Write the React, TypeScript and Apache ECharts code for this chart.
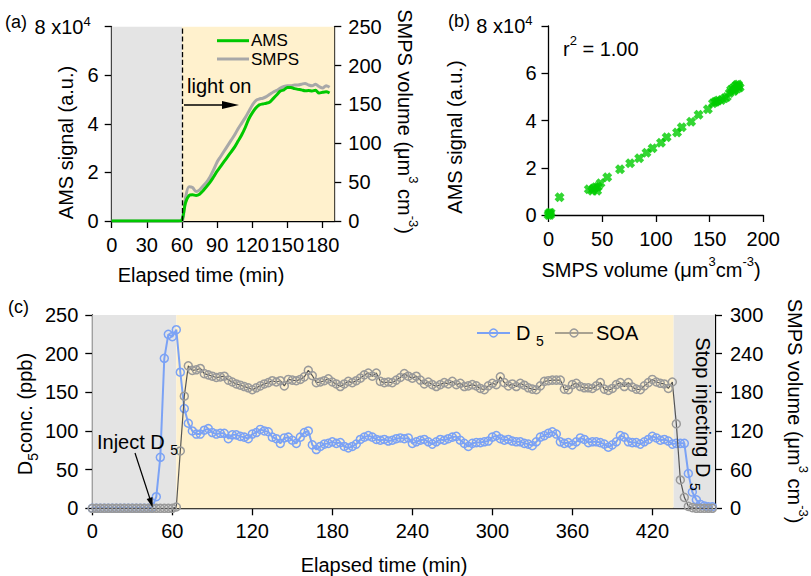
import React, { useEffect, useRef } from "react";
import * as echarts from "echarts";

const FONT = "'Liberation Sans', Arial, sans-serif";
const FS = 20;

// ---------- Panel (a): time series ----------
const A_TIME = [0, 57, 60, 63, 66, 69, 72, 75, 78, 81, 84, 87, 90, 93, 96, 99, 102, 105, 108, 111, 114, 117, 120, 123, 126, 129, 132, 135, 138, 141, 144, 147, 150, 153, 156, 159, 162, 165, 168, 171, 174, 177, 180, 183, 186];
// AMS signal in units of 1e4 a.u.
const A_AMS = [0, 0, 0.05, 0.75, 1.05, 1.08, 1.05, 1.1, 1.25, 1.42, 1.6, 1.82, 2.05, 2.25, 2.45, 2.65, 2.85, 3.05, 3.3, 3.55, 3.85, 4.2, 4.45, 4.65, 4.78, 4.82, 4.85, 4.9, 5.05, 5.2, 5.35, 5.4, 5.5, 5.5, 5.45, 5.42, 5.4, 5.36, 5.37, 5.35, 5.38, 5.27, 5.3, 5.32, 5.27];
// SMPS volume (um3 cm-3)
const A_SMPS = [0, 0, 0, 30, 44, 43, 38, 40, 45, 50, 57, 66, 76, 83, 90, 97, 104, 111, 119, 126, 133, 141, 149, 155, 157, 158, 160, 163, 166, 168, 171, 173, 174, 174, 175, 175, 176, 177, 175, 174, 176, 173, 171, 174, 172];
const A_X_TICKS = [0, 30, 60, 90, 120, 150, 180];

// ---------- Panel (b): scatter ----------
const B_SMPS = [0, 1, 2, 0.5, 1.5, 10.3, 37.5, 40.6, 42, 43.8, 45.3, 46, 48.4, 54.7, 66.6, 76, 84.4, 91.2, 96.9, 104.7, 110, 119.7, 124.1, 132.8, 139.7, 148.4, 153.1, 155, 156.3, 158, 161, 164, 166, 168.7, 170, 171.9, 172.5, 174, 175, 176, 177, 178, 176.5, 173];
const B_AMS = [0, 0.05, 0.1, 0.08, 0, 0.75, 1.09, 1.03, 1.12, 1.17, 1.03, 1.2, 1.34, 1.6, 1.94, 2.19, 2.4, 2.64, 2.83, 3.06, 3.29, 3.49, 3.71, 3.95, 4.24, 4.48, 4.73, 4.78, 4.8, 4.85, 4.87, 4.94, 5.0, 5.16, 5.3, 5.37, 5.25, 5.44, 5.5, 5.35, 5.45, 5.4, 5.52, 5.28];

// ---------- Panel (c): D5 and SOA ----------
const C_TIME = [0, 3, 6, 9, 12, 15, 18, 21, 24, 27, 30, 33, 36, 39, 42, 45, 48, 51, 54, 57, 60, 63, 66, 69, 72, 75, 78, 81, 84, 87, 90, 93, 96, 99, 102, 105, 108, 111, 114, 117, 120, 123, 126, 129, 132, 135, 138, 141, 144, 147, 150, 153, 156, 159, 162, 165, 168, 171, 174, 177, 180, 183, 186, 189, 192, 195, 198, 201, 204, 207, 210, 213, 216, 219, 222, 225, 228, 231, 234, 237, 240, 243, 246, 249, 252, 255, 258, 261, 264, 267, 270, 273, 276, 279, 282, 285, 288, 291, 294, 297, 300, 303, 306, 309, 312, 315, 318, 321, 324, 327, 330, 333, 336, 339, 342, 345, 348, 351, 354, 357, 360, 363, 366, 369, 372, 375, 378, 381, 384, 387, 390, 393, 396, 399, 402, 405, 408, 411, 414, 417, 420, 423, 426, 429, 432, 435, 438, 441, 444, 447, 450, 453, 456, 459, 462, 465];
// D5 concentration (ppb)
const C_D5 = [
  0, 0, 0, 0, 0, 0, 0, 0, 0, 0, 0, 0, 0, 0, 0, 1,
  15, 66, 194, 225, 222, 231, 176, 129, 110, 100,
  96, 96, 101, 103, 98, 96, 97, 97, 90, 95,
  95, 93, 92, 90, 96, 98, 102, 100, 99, 92,
  90, 84, 91, 92, 88, 84, 92, 98, 100, 82,
  76, 80, 83, 84, 86, 84, 85, 80, 78, 80,
  83, 89, 92, 94, 92, 89, 88, 89, 87, 88,
  90, 91, 90, 91, 84, 86, 88, 89, 86, 83,
  86, 89, 88, 90, 92, 93, 88, 84, 80, 84,
  85, 85, 86, 87, 92, 94, 90, 88, 89, 87,
  86, 86, 84, 83, 81, 86, 92, 94, 97, 99,
  96, 86, 84, 85, 82, 86, 91, 89, 85, 86,
  86, 85, 83, 79, 82, 86, 94, 92, 86, 85,
  85, 83, 86, 89, 93, 91, 88, 89, 87, 83,
  84, 84, 84, 45, 21, 11, 5, 3, 2, 2,
];
// SOA volume from SMPS (um3 cm-3)
const C_SOA = [
  0, 0, 0, 0, 0, 0, 0, 0, 0, 0, 0, 0, 0, 0, 0, 0, 0, 0, 0, 0, 0,
  2, 89, 174, 221, 214, 215, 217, 209, 207,
  205, 203, 204, 205, 199, 196, 193, 191, 189, 187,
  184, 187, 190, 193, 195, 198, 196, 198, 190, 200,
  199, 198, 200, 204, 214, 206, 195, 196, 198, 201,
  196, 193, 189, 193, 197, 195, 198, 202, 207, 210,
  205, 210, 197, 195, 196, 195, 199, 203, 209, 205,
  202, 205, 199, 193, 196, 192, 189, 192, 195, 193,
  197, 192, 194, 189, 190, 192, 190, 186, 184, 190,
  194, 192, 204, 195, 190, 193, 189, 194, 191, 187,
  185, 184, 190, 197, 198, 199, 199, 199, 185, 184,
  192, 194, 189, 187, 187, 186, 190, 195, 185, 183,
  186, 192, 195, 189, 195, 188, 185, 184, 190, 195,
  200, 196, 194, 193, 186, 196, 131, 44, 17, 3,
  1, 0, 0, 0, 0, 0,
];
const C_X_TICKS = [0, 60, 120, 180, 240, 300, 360, 420];

const GRAY_BG = "#e4e4e4";
const YELLOW_BG = "#fff1cd";
const GREEN = "#00c800";
const SMPS_GRAY = "#a8a8a8";
const BLUE = "#7ba2f5";
const SOA_MARK = "#9a9a9a";
const SOA_LINE = "#555555";

const SUP = { fontSize: 13, fontFamily: FONT, color: "#000", fill: "#000", verticalAlign: "top", lineHeight: 14 };
const SUB = { fontSize: 14, fontFamily: FONT, color: "#000", fill: "#000", verticalAlign: "bottom", lineHeight: 14 };

const axisLineS = { show: true, onZero: false, lineStyle: { color: "#000", width: 1.3 } };
const tickS = { show: true, length: 7, lineStyle: { color: "#000", width: 1.3 } };

function labelS(margin: number, extra: any = {}) {
  return { color: "#000", fontSize: FS, fontFamily: FONT, margin, ...extra };
}

function txt(x: number, y: number, text: string, opts: any = {}) {
  const { rotation = 0, fontSize = FS, align = "center", rich, lineHeight } = opts;
  return {
    type: "text",
    x,
    y,
    rotation,
    z: 100,
    silent: true,
    style: {
      text,
      x: 0,
      y: 0,
      align,
      verticalAlign: "middle",
      fontSize,
      fontFamily: FONT,
      fill: "#000",
      lineHeight: lineHeight || (rich ? 30 : fontSize + 2),
      rich,
    },
  };
}

function seg(x1: number, y1: number, x2: number, y2: number, stroke: string, lineWidth: number) {
  return { type: "line", z: 100, silent: true, shape: { x1, y1, x2, y2 }, style: { stroke, lineWidth } };
}

export default function App() {
  const ref = useRef<HTMLDivElement>(null);

  useEffect(() => {
    document.body.style.margin = "0";
    const chart = echarts.init(ref.current!, null, { renderer: "svg" });

    const eightFmt = (v: number) => (v === 8 ? "8 x10{sup|4}{gap| }" : String(v));

    const option: any = {
      animation: false,
      backgroundColor: "#fff",
      grid: [
        { left: 111.7, top: 26.7, width: 222.6, height: 194.3 },
        { left: 548.5, top: 26, width: 214.8, height: 189 },
        { left: 92.3, top: 315, width: 622.7, height: 193.3 },
      ],
      xAxis: [
        {
          gridIndex: 0, type: "value", min: 0, max: 190,
          axisLine: axisLineS,
          axisTick: { ...tickS, customValues: A_X_TICKS },
          axisLabel: labelS(14, { customValues: A_X_TICKS }),
          splitLine: { show: false },
        },
        {
          gridIndex: 1, type: "value", min: 0, max: 200, interval: 50,
          axisLine: axisLineS, axisTick: tickS, axisLabel: labelS(14),
          splitLine: { show: false },
        },
        {
          gridIndex: 2, type: "value", min: 0, max: 467,
          axisLine: axisLineS,
          axisTick: { ...tickS, customValues: C_X_TICKS },
          axisLabel: labelS(13, { customValues: C_X_TICKS }),
          splitLine: { show: false },
        },
      ],
      yAxis: [
        {
          gridIndex: 0, type: "value", min: 0, max: 8, interval: 2, position: "left",
          axisLine: axisLineS, axisTick: tickS,
          axisLabel: labelS(13, { formatter: eightFmt, lineHeight: 24, rich: { sup: SUP, gap: { width: 8 } } }),
          splitLine: { show: false },
        },
        {
          gridIndex: 0, type: "value", min: 0, max: 250, interval: 50, position: "right",
          axisLine: axisLineS, axisTick: tickS, axisLabel: labelS(14),
          splitLine: { show: false },
        },
        {
          gridIndex: 1, type: "value", min: 0, max: 8, interval: 2, position: "left",
          axisLine: axisLineS, axisTick: tickS,
          axisLabel: labelS(12, { formatter: eightFmt, lineHeight: 24, rich: { sup: SUP, gap: { width: 4 } } }),
          splitLine: { show: false },
        },
        {
          gridIndex: 2, type: "value", min: 0, max: 250, interval: 50, position: "left",
          axisLine: axisLineS, axisTick: tickS, axisLabel: labelS(14),
          splitLine: { show: false },
        },
        {
          gridIndex: 2, type: "value", min: 0, max: 300, interval: 60, position: "right",
          axisLine: axisLineS, axisTick: tickS, axisLabel: labelS(15),
          splitLine: { show: false },
        },
      ],
      series: [
        // panel (a) backgrounds + dashed "light on" marker
        {
          type: "line", xAxisIndex: 0, yAxisIndex: 0, data: [[0, 0]], showSymbol: false,
          lineStyle: { width: 0 }, z: 1, silent: true,
          markArea: {
            silent: true,
            data: [
              [{ xAxis: 0, itemStyle: { color: GRAY_BG } }, { xAxis: 60 }],
              [{ xAxis: 60, itemStyle: { color: YELLOW_BG } }, { xAxis: 190 }],
            ],
          },
          markLine: {
            silent: true, symbol: ["none", "none"], label: { show: false },
            lineStyle: { type: "dashed", color: "#000", width: 1.3 },
            data: [{ xAxis: 60 }],
          },
        },
        {
          name: "SMPS", type: "line", xAxisIndex: 0, yAxisIndex: 1,
          data: A_TIME.map((t, i) => [t, A_SMPS[i]]),
          showSymbol: false, symbol: "none", smooth: 0.3,
          lineStyle: { color: SMPS_GRAY, width: 3 }, z: 3,
        },
        {
          name: "AMS", type: "line", xAxisIndex: 0, yAxisIndex: 0,
          data: A_TIME.map((t, i) => [t, A_AMS[i]]),
          showSymbol: false, symbol: "none", smooth: 0.3,
          lineStyle: { color: GREEN, width: 3 }, z: 4,
        },
        // panel (b)
        {
          type: "scatter", xAxisIndex: 1, yAxisIndex: 2,
          data: B_SMPS.map((x, i) => [x, B_AMS[i]]),
          symbol: "path://M3,0L5,2L7,0L10,3L8,5L10,7L7,10L5,8L3,10L0,7L2,5L0,3Z",
          symbolSize: 10,
          itemStyle: { color: "#00cc00" },
          z: 3,
        },
        // panel (c) backgrounds
        {
          type: "line", xAxisIndex: 2, yAxisIndex: 3, data: [[0, 0]], showSymbol: false,
          lineStyle: { width: 0 }, z: 1, silent: true,
          markArea: {
            silent: true,
            data: [
              [{ xAxis: 0, itemStyle: { color: GRAY_BG } }, { xAxis: 63 }],
              [{ xAxis: 63, itemStyle: { color: YELLOW_BG } }, { xAxis: 436 }],
              [{ xAxis: 436, itemStyle: { color: GRAY_BG } }, { xAxis: 467 }],
            ],
          },
        },
        {
          name: "D5", type: "line", xAxisIndex: 2, yAxisIndex: 3,
          data: C_TIME.map((t, i) => [t, C_D5[i]]),
          symbol: "circle", symbolSize: 8, showSymbol: true, showAllSymbol: true,
          itemStyle: { color: "rgba(0,0,0,0)", borderColor: BLUE, borderWidth: 1.5 },
          lineStyle: { color: BLUE, width: 2 }, z: 3,
        },
        {
          name: "SOA", type: "line", xAxisIndex: 2, yAxisIndex: 4,
          data: C_TIME.map((t, i) => [t, C_SOA[i]]),
          symbol: "circle", symbolSize: 8, showSymbol: true, showAllSymbol: true,
          itemStyle: { color: "rgba(0,0,0,0)", borderColor: SOA_MARK, borderWidth: 1.5 },
          lineStyle: { color: SOA_LINE, width: 1.2 }, z: 4,
        },
      ],
      graphic: [
        // panel labels
        txt(5, 22, "(a)", { align: "left", fontSize: 18 }),
        txt(448, 21, "(b)", { align: "left", fontSize: 18 }),
        txt(8, 307, "(c)", { align: "left", fontSize: 18 }),
        // panel (a) axis names
        txt(66, 142.5, "AMS signal (a.u.)", { rotation: Math.PI / 2 }),
        txt(405, 121.5, "SMPS volume (μm{sup|3} cm{sup|-3})", { rotation: -Math.PI / 2, rich: { sup: SUP } }),
        txt(201, 275, "Elapsed time (min)"),
        // panel (a) legend
        seg(217, 40.7, 249, 40.7, GREEN, 3),
        txt(251, 40.7, "AMS", { align: "left", fontSize: 17 }),
        seg(217, 59, 249, 59, SMPS_GRAY, 3),
        txt(251, 59, "SMPS", { align: "left", fontSize: 17 }),
        // light on
        txt(187, 86, "light on", { align: "left" }),
        seg(184, 105, 224, 105, "#000", 1.3),
        { type: "polygon", z: 100, silent: true, shape: { points: [[222, 101], [239, 105], [222, 109]] }, style: { fill: "#000" } },
        // panel (b)
        txt(455, 137, "AMS signal (a.u.)", { rotation: Math.PI / 2 }),
        txt(651, 270, "SMPS volume (μm{sup|3}cm{sup|-3})", { rich: { sup: SUP } }),
        txt(563, 48.5, "r{sup|2} = 1.00", { align: "left", rich: { sup: SUP } }),
        // panel (c) axis names
        txt(25, 414, "D{sub|5}conc. (ppb)", { rotation: Math.PI / 2, rich: { sub: SUB } }),
        txt(795, 411, "SMPS volume (μm{sup|3} cm{sup|-3})", { rotation: -Math.PI / 2, rich: { sup: SUP } }),
        txt(384, 565, "Elapsed time (min)"),
        // panel (c) legend
        seg(477, 333, 510, 333, BLUE, 2),
        { type: "circle", z: 100, silent: true, shape: { cx: 493.5, cy: 333, r: 4 }, style: { fill: "none", stroke: BLUE, lineWidth: 1.5 } },
        txt(516, 333, "D {sub|5}", { align: "left", rich: { sub: SUB } }),
        seg(555, 333, 593, 333, SOA_LINE, 1.2),
        { type: "circle", z: 100, silent: true, shape: { cx: 574, cy: 333, r: 4 }, style: { fill: "none", stroke: SOA_MARK, lineWidth: 1.5 } },
        txt(596, 333, "SOA", { align: "left" }),
        // annotations
        txt(97, 442, "Inject D {sub|5}", { align: "left", rich: { sub: SUB } }),
        seg(135, 453, 150.5, 500.5, "#000", 1.2),
        { type: "polygon", z: 100, silent: true, shape: { points: [[152.7, 507.5], [152.5, 497.1], [146.7, 498.9]] }, style: { fill: "#000" } },
        txt(703, 414, "Stop injecting D {sub|5}", { rotation: -Math.PI / 2, rich: { sub: SUB } }),
      ],
    };

    chart.setOption(option);
    return () => chart.dispose();
  }, []);

  return <div ref={ref} style={{ width: 811, height: 576 }} />;
}
